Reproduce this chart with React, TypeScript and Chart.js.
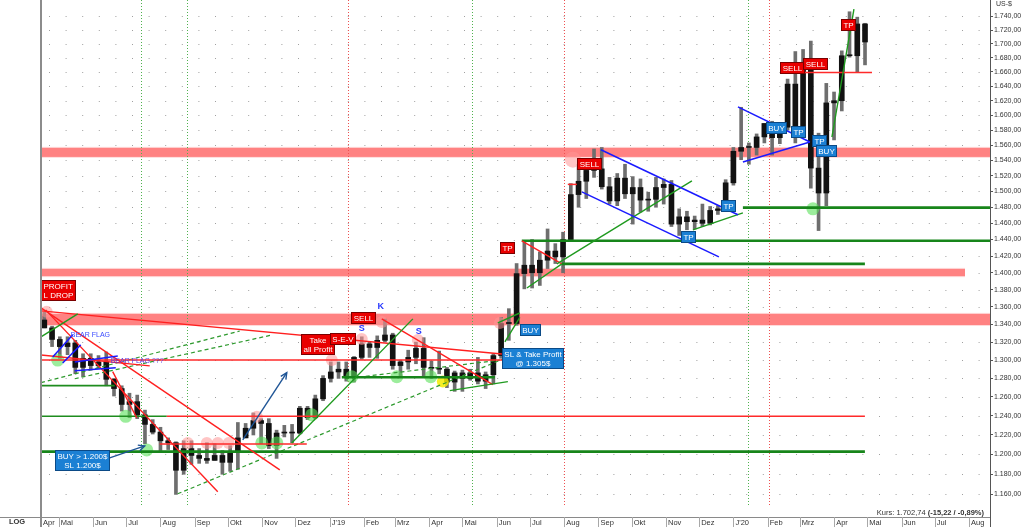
import React, { useEffect, useRef } from "react";
import { Chart, registerables } from "chart.js";

Chart.register(...registerables);

const FONT = "'Liberation Sans', Arial, sans-serif";
const DAY0 = Date.UTC(2018, 4, 1);
const day = (s: string) => (Date.parse(s + "T00:00:00Z") - DAY0) / 86400000;

// visible window
const X_START = "2018-04-15";
const X_END = "2020-08-20";
const Y_MIN = 1138;
const Y_MAX = 1764.5;

// weekly bars, first week starting Monday 2018-04-16
const FIRST_WEEK = "2018-04-16";
const weekOpen = [
  1345, 1336, 1323, 1315, 1319, 1292, 1302, 1294, 1298, 1279,
  1269, 1252, 1255, 1241, 1231, 1223, 1214, 1212, 1184, 1206,
  1199, 1196, 1194, 1199, 1192, 1203, 1217, 1227, 1235, 1232,
  1209, 1222, 1223, 1222, 1248, 1238, 1258, 1280, 1287, 1290,
  1282, 1303, 1318, 1314, 1322, 1328, 1294, 1298, 1303, 1313,
  1292, 1291, 1290, 1276, 1286, 1280, 1286, 1277, 1284, 1305,
  1341, 1341, 1399, 1409, 1400, 1415, 1426, 1419, 1440, 1496,
  1513, 1527, 1529, 1506, 1488, 1517, 1497, 1505, 1489, 1490,
  1505, 1509, 1459, 1468, 1462, 1464, 1460, 1476, 1478, 1511,
  1552, 1557, 1557, 1571, 1589, 1570, 1584, 1643, 1585, 1673,
  1530, 1498, 1617, 1620, 1683, 1683, 1729,
];
const weekHigh = [
  1354, 1338, 1326, 1326, 1322, 1307, 1307, 1305, 1309, 1280,
  1272, 1264, 1262, 1246, 1236, 1228, 1217, 1213, 1214, 1214,
  1206, 1212, 1211, 1204, 1209, 1233, 1232, 1243, 1237, 1237,
  1225, 1230, 1231, 1250, 1250, 1262, 1283, 1298, 1298, 1298,
  1304, 1326, 1320, 1327, 1346, 1330, 1300, 1311, 1320, 1325,
  1299, 1310, 1292, 1288, 1289, 1290, 1303, 1287, 1307, 1348,
  1358, 1411, 1439, 1440, 1425, 1453, 1435, 1449, 1510, 1535,
  1531, 1555, 1557, 1518, 1523, 1535, 1519, 1516, 1499, 1518,
  1516, 1514, 1478, 1475, 1469, 1484, 1481, 1482, 1515, 1557,
  1611, 1563, 1575, 1589, 1592, 1585, 1650, 1689, 1692, 1704,
  1576, 1644, 1632, 1690, 1747, 1739, 1730,
];
const weekLow = [
  1336, 1315, 1302, 1306, 1285, 1282, 1289, 1291, 1272, 1261,
  1245, 1238, 1237, 1211, 1221, 1204, 1205, 1160, 1180, 1190,
  1191, 1191, 1194, 1180, 1183, 1185, 1217, 1220, 1211, 1206,
  1196, 1218, 1212, 1221, 1236, 1237, 1256, 1276, 1280, 1277,
  1276, 1301, 1303, 1302, 1320, 1290, 1281, 1290, 1296, 1281,
  1280, 1285, 1270, 1266, 1266, 1278, 1274, 1269, 1274, 1302,
  1322, 1339, 1381, 1382, 1385, 1405, 1411, 1400, 1440, 1480,
  1491, 1518, 1503, 1484, 1482, 1491, 1459, 1474, 1475, 1480,
  1484, 1456, 1445, 1452, 1453, 1456, 1458, 1471, 1476, 1508,
  1541, 1535, 1547, 1563, 1547, 1562, 1580, 1563, 1575, 1504,
  1451, 1482, 1567, 1606, 1681, 1660, 1670,
];
const weekClose = [
  1336, 1323, 1315, 1319, 1292, 1302, 1294, 1298, 1279, 1269,
  1252, 1255, 1241, 1231, 1223, 1214, 1212, 1184, 1206, 1199,
  1196, 1194, 1199, 1192, 1203, 1217, 1227, 1235, 1232, 1209,
  1222, 1223, 1222, 1248, 1238, 1258, 1280, 1287, 1290, 1282,
  1303, 1318, 1314, 1322, 1328, 1294, 1298, 1303, 1313, 1292,
  1291, 1290, 1276, 1286, 1280, 1286, 1277, 1284, 1305, 1341,
  1341, 1399, 1409, 1400, 1415, 1426, 1419, 1440, 1496, 1513,
  1527, 1529, 1506, 1488, 1517, 1497, 1505, 1489, 1490, 1505,
  1509, 1459, 1468, 1462, 1464, 1460, 1476, 1478, 1511, 1552,
  1557, 1557, 1571, 1589, 1570, 1584, 1643, 1585, 1673, 1530,
  1498, 1617, 1620, 1683, 1683, 1729, 1702.74,
];

// axis ticks
const yTicks = [
  1160, 1180, 1200, 1220, 1240, 1260, 1280, 1300, 1320, 1340, 1360, 1380, 1400, 1420, 1440,
  1460, 1480, 1500, 1520, 1540, 1560, 1580, 1600, 1620, 1640, 1660, 1680, 1700, 1720, 1740,
];
const monthTickDates = [
  "2018-04-15", "2018-05-01", "2018-06-01", "2018-07-01", "2018-08-01", "2018-09-01", "2018-10-01",
  "2018-11-01", "2018-12-01", "2019-01-01", "2019-02-01", "2019-03-01", "2019-04-01", "2019-05-01",
  "2019-06-01", "2019-07-01", "2019-08-01", "2019-09-01", "2019-10-01", "2019-11-01", "2019-12-01",
  "2020-01-01", "2020-02-01", "2020-03-01", "2020-04-01", "2020-05-01", "2020-06-01", "2020-07-01",
  "2020-08-01",
];
const monthLabels = [
  "Apr", "Mai", "Jun", "Jul", "Aug", "Sep", "Okt", "Nov", "Dez", "J'19", "Feb", "Mrz", "Apr", "Mai",
  "Jun", "Jul", "Aug", "Sep", "Okt", "Nov", "Dez", "J'20", "Feb", "Mrz", "Apr", "Mai", "Jun", "Jul", "Aug",
];

// annotations (x in days since 2018-05-01, y in US-$)
const redZones = [
  [1544.6, 1556.5, -16, 842],
  [1396, 1404.6, -16, 819.4],
  [1339.3, 1352, -16, 842],
];
const greenLevels = [
  [1479.5, 618.6, 842],
  [1438.6, 418.7, 842],
  [1410.6, 454.9, 728.9],
  [1202.9, -16, 728.9],
  [1281.3, 256, 394.3],
];
const greenThinLevels = [
  [1272.2, -16, 50.6],
  [1239.5, -16, 97.7],
];
const redLevels = [
  [1300, -16, 400.7],
  [1239.5, 97.7, 728.9],
  [1210.8, 91.3, 224.3],
  [1659.3, 672.9, 735.3],
  [1509, 460.3, 468.5],
];
const redTrends = [
  [-16, 1355.5, 400.7, 1306.7],
  [-16, 1359, 199.9, 1184.4],
  [-11.8, 1356.6, 143.8, 1162.6],
  [48.8, 1287.3, 70.5, 1238],
  [292.1, 1346.3, 392.5, 1273.3],
  [418.7, 1438.3, 454.9, 1410.6],
  [-16, 1305.6, 82.3, 1293.7],
];
const greenTrends = [
  [-16, 1325.9, 17.2, 1352],
  [210.7, 1211.8, 320.2, 1346.3],
  [353.6, 1266.8, 406.1, 1276.5],
  [397, 1341.7, 416.9, 1353],
  [403.4, 1320.2, 416.9, 1348],
  [423.3, 1382, 454.9, 1410.6],
  [450.4, 1410.6, 572.5, 1513.4],
  [573.4, 1451.8, 618.6, 1473],
  [699.1, 1570.9, 719, 1751],
];
const greenDashedTrends = [
  [-16, 1275.4, 163.7, 1332.5],
  [14.5, 1279.6, 193.5, 1328.2],
  [107.6, 1160.6, 403.4, 1302],
  [258.7, 1279.6, 398.8, 1300],
];
const blueTrends = [
  [490.2, 1554, 614.1, 1470.6],
  [473, 1499.4, 596.9, 1419],
  [614.1, 1611.5, 679.2, 1564.3],
  [618.6, 1538, 679.2, 1564.3],
  [-5.4, 1303.4, 12.7, 1328.2],
  [3.6, 1296.8, 19.9, 1316.9],
  [14.5, 1298, 53.4, 1304.5],
  [14.5, 1288.3, 51.6, 1291.6],
];
const arrows = [
  [166.4, 1214.9, 206.2, 1286.2],
  [46.1, 1196.5, 77.8, 1208.7],
];
const greenVLines = [74.2, 115.8, 373.5, 623.1];
const redVLines = [261.4, 456.7, 642.1];
const pinkDots = [
  [-10.9, 1354.4], [179.1, 1239], [116.7, 1211.8], [133.9, 1211.8], [143.8, 1211.8], [153.7, 1211.8],
  [246.9, 1300], [274, 1323.6], [292.1, 1342.8], [324.7, 1322.5], [398.8, 1341.7], [464.9, 1541],
];
const greenDots = [
  [-0.9, 1300], [60.6, 1239.5], [79.6, 1204.6], [183.6, 1211.8], [197.2, 1211.8], [265, 1281.8],
  [305.7, 1281.8], [336.4, 1281.8], [228.8, 1241], [681.9, 1478],
];
const yellowDots = [[347.3, 1276.5]];
const redTags = [
  { d: -16, p: 1379, text: ["PROFIT", "L DROP"], left: true },
  { d: 234.2, p: 1317, text: ["Take", "all Profit"] },
  { d: 257.3, p: 1323.6, text: ["S-E-V"] },
  { d: 275.8, p: 1347, text: ["SELL"] },
  { d: 406.1, p: 1430, text: ["TP"] },
  { d: 479.8, p: 1535.5, text: ["SELL"] },
  { d: 663.4, p: 1666, text: ["SELL"] },
  { d: 684.2, p: 1670.6, text: ["SELL"] },
  { d: 714, p: 1727.5, text: ["TP"] },
];
const blueTags = [
  { d: 426.4, p: 1333.6, text: ["BUY"] },
  { d: 429.1, p: 1302.3, text: ["SL & Take Profit", "@ 1.305$"] },
  { d: 21.7, p: 1193.5, text: ["BUY > 1.200$", "SL 1.200$"] },
  { d: 569.3, p: 1443, text: ["TP"] },
  { d: 606, p: 1482, text: ["TP"] },
  { d: 649.4, p: 1582.4, text: ["BUY"] },
  { d: 669.3, p: 1577, text: ["TP"] },
  { d: 687.4, p: 1565, text: ["TP"] },
  { d: 694.6, p: 1553, text: ["BUY"] },
];
const letterMarks = [
  { d: 274, p: 1334.8, t: "S" },
  { d: 291.2, p: 1361, t: "K" },
  { d: 325.6, p: 1331.4, t: "S" },
];
const flagNotes = [
  { d: 10.9, p: 1328.2, t: "BEAR FLAG" },
  { d: 47, p: 1299, t: "BEAR FLAG ???" },
];
const lastQuote = "1.702,74";
const lastChange = "(-15,22 / -0,89%)";

const fmtPrice = (v: number) => {
  const r = Math.round(v);
  return `${Math.floor(r / 1000)}.${String(r % 1000).padStart(3, "0")},00`;
};

function drawTag(ctx: any, x: number, y: number, lines: string[], fill: string, stroke: string, left?: boolean) {
  ctx.font = `8px ${FONT}`;
  const w = Math.round(Math.max(...lines.map((l) => ctx.measureText(l).width)) + 5);
  const lh = 9;
  const h = lines.length * lh + 3;
  const lx = Math.round(left ? x : x - w / 2);
  const ty = Math.round(y - h / 2);
  ctx.fillStyle = fill;
  ctx.fillRect(lx, ty, w, h);
  ctx.strokeStyle = stroke;
  ctx.lineWidth = 1;
  ctx.setLineDash([]);
  ctx.strokeRect(lx + 0.5, ty + 0.5, w - 1, h - 1);
  ctx.fillStyle = "#ffffff";
  ctx.textBaseline = "middle";
  ctx.textAlign = left ? "left" : "center";
  lines.forEach((l, i) => ctx.fillText(l, left ? lx + 2.5 : lx + w / 2, ty + 1.5 + lh * (i + 0.5) + 0.5));
}

const overlay = {
  id: "overlay",
  beforeDatasetsDraw(chart: any) {
    const { ctx, chartArea: a, scales } = chart;
    const X = (v: number) => scales.x.getPixelForValue(v);
    const Y = (v: number) => scales.y.getPixelForValue(v);
    ctx.save();
    // dotted grid
    ctx.strokeStyle = "#a0a0a0";
    ctx.lineWidth = 1;
    ctx.setLineDash([1, 15.6]);
    for (const v of yTicks) {
      const py = Math.round(Y(v)) + 0.5;
      ctx.beginPath();
      ctx.moveTo(a.left + 8, py);
      ctx.lineTo(a.right - 2, py);
      ctx.stroke();
    }
    ctx.beginPath();
    ctx.rect(a.left, a.top, a.right - a.left, a.bottom - a.top);
    ctx.clip();
    // zones
    ctx.setLineDash([]);
    for (const [p1, p2, d1, d2] of redZones) {
      const y1 = Y(p2), y2 = Y(p1);
      ctx.fillStyle = "rgba(255,215,215,0.9)";
      ctx.fillRect(X(d1), y1 - 1, X(d2) - X(d1), y2 - y1 + 2);
      ctx.fillStyle = "#ff8282";
      ctx.fillRect(X(d1), y1, X(d2) - X(d1), y2 - y1);
    }
    // vertical dotted lines
    ctx.lineWidth = 1;
    ctx.setLineDash([1, 2]);
    const vline = (d: number, c: string) => {
      const px = Math.round(X(d)) + 0.5;
      ctx.strokeStyle = c;
      ctx.beginPath();
      ctx.moveTo(px, a.top);
      ctx.lineTo(px, a.bottom - 11);
      ctx.stroke();
    };
    greenVLines.forEach((d) => vline(d, "#4fb24f"));
    redVLines.forEach((d) => vline(d, "#ee5050"));
    ctx.restore();
  },
  afterDatasetsDraw(chart: any) {
    const { ctx, chartArea: a, scales } = chart;
    const X = (v: number) => scales.x.getPixelForValue(v);
    const Y = (v: number) => scales.y.getPixelForValue(v);
    ctx.save();
    ctx.beginPath();
    ctx.rect(a.left, a.top, a.right - a.left, a.bottom - a.top);
    ctx.clip();
    // dots
    const dot = (d: number, p: number, c: string, r: number) => {
      ctx.fillStyle = c;
      ctx.beginPath();
      ctx.arc(X(d), Y(p), r, 0, Math.PI * 2);
      ctx.fill();
    };
    pinkDots.forEach(([d, p], i) => dot(d, p, "rgba(255,150,150,0.55)", i === pinkDots.length - 1 ? 8 : 6));
    greenDots.forEach(([d, p]) => dot(d, p, "rgba(90,225,90,0.6)", 6.5));
    yellowDots.forEach(([d, p]) => dot(d, p, "rgba(245,235,0,0.85)", 6));

    const seg = (d1: number, p1: number, d2: number, p2: number, c: string, w: number, dash: number[] = []) => {
      ctx.strokeStyle = c;
      ctx.lineWidth = w;
      ctx.setLineDash(dash);
      ctx.beginPath();
      ctx.moveTo(X(d1), Y(p1));
      ctx.lineTo(X(d2), Y(p2));
      ctx.stroke();
    };
    greenDashedTrends.forEach(([d1, p1, d2, p2]) => seg(d1, p1, d2, p2, "#2e9a2e", 1.2, [4, 3]));
    greenThinLevels.forEach(([p, d1, d2]) => seg(d1, p, d2, p, "#1e8c1e", 1.6));
    redLevels.forEach(([p, d1, d2]) => seg(d1, p, d2, p, "#ff2a2a", 1.5));
    greenLevels.forEach(([p, d1, d2]) => seg(d1, p, d2, p, "#17851a", 2.6));
    redTrends.forEach(([d1, p1, d2, p2]) => seg(d1, p1, d2, p2, "#ff2020", 1.4));
    greenTrends.forEach(([d1, p1, d2, p2]) => seg(d1, p1, d2, p2, "#1f9a1f", 1.4));
    blueTrends.forEach(([d1, p1, d2, p2]) => seg(d1, p1, d2, p2, "#1a1aff", 1.5));
    // arrows
    arrows.forEach(([d1, p1, d2, p2]) => {
      seg(d1, p1, d2, p2, "#1f5596", 1.4);
      const x2 = X(d2), y2 = Y(p2);
      const ang = Math.atan2(y2 - Y(p1), x2 - X(d1));
      ctx.beginPath();
      ctx.moveTo(x2 - 7 * Math.cos(ang - 0.45), y2 - 7 * Math.sin(ang - 0.45));
      ctx.lineTo(x2, y2);
      ctx.lineTo(x2 - 7 * Math.cos(ang + 0.45), y2 - 7 * Math.sin(ang + 0.45));
      ctx.stroke();
    });
    // tags
    redTags.forEach((t) => drawTag(ctx, X(t.d), Y(t.p), t.text, "#e90000", "#7a0000", (t as any).left));
    blueTags.forEach((t) => drawTag(ctx, X(t.d), Y(t.p), t.text, "#1b80d4", "#0b4a86"));
    // letters
    ctx.setLineDash([]);
    ctx.font = `bold 9px ${FONT}`;
    ctx.fillStyle = "#2b3bff";
    ctx.textAlign = "center";
    ctx.textBaseline = "middle";
    letterMarks.forEach((m) => ctx.fillText(m.t, X(m.d), Y(m.p)));
    ctx.font = `7px ${FONT}`;
    ctx.textAlign = "left";
    flagNotes.forEach((m, i) => {
      ctx.fillStyle = i === 0 ? "#3b4bff" : "#5b3be0";
      ctx.fillText(m.t, X(m.d), Y(m.p));
    });
    ctx.restore();
  },
  afterDraw(chart: any) {
    const { ctx, chartArea: a, scales } = chart;
    ctx.save();
    ctx.setLineDash([]);
    // bottom strip line extension and separators
    ctx.strokeStyle = "#8a8a8a";
    ctx.lineWidth = 1;
    ctx.beginPath();
    ctx.moveTo(0, a.bottom + 0.5);
    ctx.lineTo(a.left, a.bottom + 0.5);
    ctx.stroke();
    ctx.strokeStyle = "#a8a8a8";
    for (const t of scales.x.ticks) {
      const px = Math.round(scales.x.getPixelForValue(t.value)) + 0.5;
      ctx.beginPath();
      ctx.moveTo(px, a.bottom);
      ctx.lineTo(px, chart.height);
      ctx.stroke();
    }
    // left border
    ctx.strokeStyle = "#8c8c8c";
    ctx.lineWidth = 2;
    ctx.beginPath();
    ctx.moveTo(a.left, 0);
    ctx.lineTo(a.left, chart.height);
    ctx.stroke();
    // right axis down to bottom
    ctx.strokeStyle = "#555";
    ctx.lineWidth = 1;
    ctx.beginPath();
    ctx.moveTo(a.right + 0.5, 0);
    ctx.lineTo(a.right + 0.5, chart.height);
    ctx.stroke();
    // texts
    ctx.fillStyle = "#333";
    ctx.textBaseline = "middle";
    ctx.font = `bold 7.5px ${FONT}`;
    ctx.textAlign = "center";
    ctx.fillText("LOG", 17, 522);
    ctx.font = `7px ${FONT}`;
    ctx.textAlign = "left";
    ctx.fillText("US-$", 996, 4);
    // Kurs
    ctx.textAlign = "right";
    ctx.font = `bold 7.5px ${FONT}`;
    const right = 984;
    const wBold = ctx.measureText(lastChange).width;
    ctx.fillText(lastChange, right, 512.5);
    ctx.font = `7.5px ${FONT}`;
    ctx.fillText(`Kurs: ${lastQuote} `, right - wBold, 512.5);
    ctx.restore();
  },
};

export default function App() {
  const ref = useRef<HTMLCanvasElement>(null);
  useEffect(() => {
    const canvas = ref.current;
    if (!canvas) return;
    Chart.defaults.font.family = FONT;
    const x0 = day(FIRST_WEEK) + 2;
    const wicks = weekHigh.map((h, i) => ({ x: x0 + 7 * i, y: [weekLow[i], h] }));
    const bodies = weekClose.map((c, i) => ({
      x: x0 + 7 * i,
      y: [Math.min(weekOpen[i], c), Math.max(weekOpen[i], c)],
    }));
    const tickVals = monthTickDates.map(day);
    const chart = new Chart(canvas, {
      type: "bar",
      data: {
        datasets: [
          { label: "range", data: wicks as any, backgroundColor: "#6e6e6e", barThickness: 3, grouped: false, order: 2 } as any,
          { label: "body", data: bodies as any, backgroundColor: "#121212", barThickness: 5, grouped: false, order: 1, minBarLength: 1 } as any,
        ],
      },
      options: {
        animation: false,
        responsive: false,
        events: [],
        layout: { padding: { left: 41, top: 0, right: 0, bottom: 0 } },
        plugins: { legend: { display: false }, tooltip: { enabled: false } },
        scales: {
          x: {
            type: "linear",
            min: day(X_START),
            max: day(X_END),
            offset: false,
            bounds: "data",
            grid: { display: false, drawTicks: false },
            border: { display: true, color: "#8a8a8a", width: 1 },
            ticks: {
              autoSkip: false,
              maxRotation: 0,
              align: "start",
              padding: 1,
              color: "#333",
              font: { size: 7.5 },
              callback: (_v: any, i: number) => " " + monthLabels[i],
            },
            afterBuildTicks: (s: any) => {
              s.ticks = tickVals.map((v) => ({ value: v }));
            },
            afterFit: (s: any) => {
              s.height = 10;
              s.paddingLeft = 0;
              s.paddingRight = 0;
            },
          },
          y: {
            type: "logarithmic",
            position: "right",
            min: Y_MIN,
            max: Y_MAX,
            bounds: "data",
            grid: { drawOnChartArea: false, drawTicks: true, tickLength: 3, color: "#555" },
            border: { display: true, color: "#555", width: 1 },
            ticks: {
              autoSkip: false,
              padding: 1,
              color: "#333",
              font: { size: 7 },
              callback: (v: any) => fmtPrice(Number(v)),
            },
            afterBuildTicks: (s: any) => {
              s.ticks = yTicks.map((v) => ({ value: v }));
            },
            afterFit: (s: any) => {
              s.width = 34;
              s.paddingTop = 0;
              s.paddingBottom = 0;
            },
          },
        } as any,
      },
      plugins: [overlay as any],
    });
    return () => chart.destroy();
  }, []);
  return (
    <canvas
      ref={ref}
      width={1024}
      height={527}
      style={{ position: "absolute", left: 0, top: 0, width: 1024, height: 527, display: "block" }}
    />
  );
}
